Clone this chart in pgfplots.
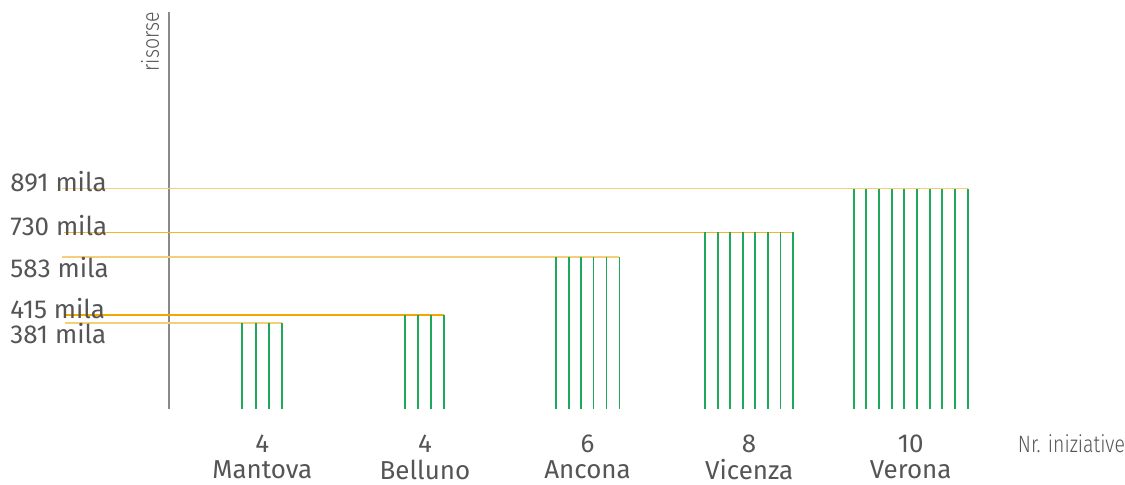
\documentclass[border=0pt]{standalone}
\usepackage{fontspec}
\setmainfont{Fira Sans}
\newfontfamily\lightfont{Fira Sans}[UprightFont=* Light, FakeStretch=0.82]
\usepackage{pgfplots}
\pgfplotsset{compat=1.18}
\definecolor{cgreen}{HTML}{1FA85A}
\definecolor{cyell}{HTML}{F5CF78}
\definecolor{corng}{HTML}{F2A800}
\definecolor{ctext}{HTML}{555555}
\definecolor{caxis}{HTML}{8A8A8A}
\tikzset{
  lab/.style={font=\fontsize{10.4}{12}\selectfont,text=ctext,inner sep=0pt},
  thin/.style={font=\lightfont\fontsize{9.5}{11}\selectfont,text=ctext,inner sep=0pt},
}
\begin{document}
\begin{tikzpicture}
\begin{axis}[
  x=0.4pt, y=0.4pt,
  xmin=0, xmax=1125, ymin=-76, ymax=410,
  hide axis, clip=false,
]
\path (rel axis cs:0,0) rectangle (rel axis cs:1,1);
% axis line
\addplot[caxis, line width=0.8pt] coordinates {(169,0) (169,398)};
% horizontal value lines (height in drawing units, value in label)
\addplot[cyell, line width=0.7pt] coordinates {(62,221) (970,221)};   % 891
\addplot[corng!85, line width=0.6pt] coordinates {(64,177) (795,177)};  % 730
\addplot[cyell, line width=0.8pt] coordinates {(62,152) (621,152)};   % 583
\addplot[corng, line width=0.7pt] coordinates {(65,94) (445,94)};    % 415
\addplot[cyell, line width=0.8pt] coordinates {(65,86) (283,86)};     % 381
% initiatives, one stroke each
\addplot[ycomb, cgreen, line width=0.75pt, mark=none] coordinates {
  (243,86) (256.5,86) (270,86) (283,86)};
\addplot[ycomb, cgreen, line width=0.75pt, mark=none] coordinates {
  (406,94) (419,94) (432,94) (445,94)};
\addplot[ycomb, cgreen, line width=0.75pt, mark=none] coordinates {
  (557,152) (570,152) (582.5,152) (595,152) (608,152) (621,152)};
\addplot[ycomb, cgreen, line width=0.75pt, mark=none] coordinates {
  (707,177) (719.5,177) (732,177) (744.5,177) (757,177) (770,177) (782.5,177) (795,177)};
\addplot[ycomb, cgreen, line width=0.75pt, mark=none] coordinates {
  (856,221) (868.5,221) (881,221) (894,221) (906.5,221) (919,221) (932,221) (944.5,221) (957,221) (970,221)};
% value labels
\node[lab, anchor=west] at (axis cs:10,228) {891 mila};
\node[lab, anchor=west] at (axis cs:10,184) {730 mila};
\node[lab, anchor=west] at (axis cs:10,142) {583 mila};
\node[lab, anchor=west] at (axis cs:10,101) {415 mila};
\node[lab, anchor=west] at (axis cs:10,76) {381 mila};
% category labels
\node[lab] at (axis cs:263,-35) {4};
\node[lab] at (axis cs:263,-61) {Mantova};
\node[lab] at (axis cs:426,-35) {4};
\node[lab] at (axis cs:426,-61) {Belluno};
\node[lab] at (axis cs:589,-35) {6};
\node[lab] at (axis cs:589,-61) {Ancona};
\node[lab] at (axis cs:751,-35) {8};
\node[lab] at (axis cs:751,-61) {Vicenza};
\node[lab] at (axis cs:913,-35) {10};
\node[lab] at (axis cs:913,-61) {Verona};
\node[thin, anchor=west] at (axis cs:1020,-35) {Nr. iniziative};
\node[thin, rotate=90, anchor=south east] at (axis cs:160,398) {risorse};
\end{axis}
\end{tikzpicture}
\end{document}
